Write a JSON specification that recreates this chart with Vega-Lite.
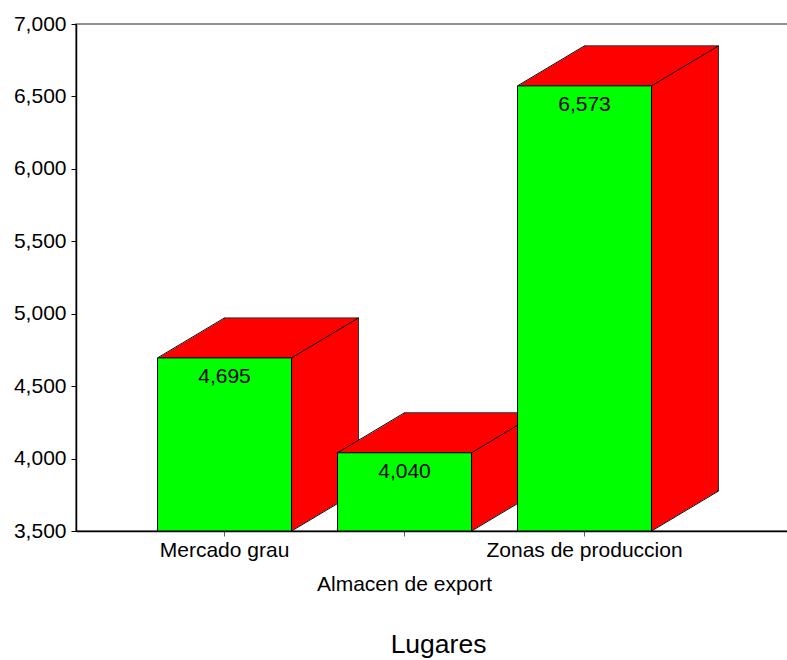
{
  "$schema": "https://vega.github.io/schema/vega-lite/v6.json",
  "autosize": "none",
  "width": 712,
  "height": 507,
  "padding": {"left": 76, "top": 24, "right": 0, "bottom": 129},
  "background": "white",
  "config": {
    "font": "Liberation Sans",
    "view": {"stroke": "#6e6e6e", "strokeWidth": 1.5}
  },
  "data": {
    "values": [
      {"Lugar": "Mercado grau", "value": 4695},
      {"Lugar": "Almacen de export", "value": 4040},
      {"Lugar": "Zonas de produccion", "value": 6573}
    ]
  },
  "encoding": {
    "x": {
      "field": "Lugar",
      "type": "nominal",
      "sort": null,
      "scale": {"paddingInner": 0.25556, "paddingOuter": 0.60556, "align": 0.374},
      "axis": {
        "labelAngle": 0,
        "labelFontSize": 21,
        "labelLimit": 400,
        "labelColor": "#000000",
        "labelPadding": {"condition": {"test": "datum.value == 'Almacen de export'", "value": 37}, "value": 3},
        "labelBaseline": "top",
        "domainColor": "#000000",
        "domainWidth": 1.5,
        "tickColor": "#606060",
        "tickSize": 5,
        "title": "Lugares",
        "titleFontSize": 26.5,
        "titleFontWeight": "normal",
        "titleColor": "#000000",
        "titleBaseline": "alphabetic",
        "titleY": 121,
        "titleX": 362,
        "titleAlign": "center",
        "grid": false
      }
    },
    "y": {
      "field": "value",
      "type": "quantitative",
      "scale": {"domain": [3500, 7000], "nice": false, "zero": false},
      "axis": {
        "values": [3500, 4000, 4500, 5000, 5500, 6000, 6500, 7000],
        "labelExpr": "format(datum.value, ',')",
        "labelFontSize": 21,
        "labelColor": "#000000",
        "labelPadding": 5,
        "domainColor": "#000000",
        "domainWidth": 1.5,
        "tickColor": "#000000",
        "tickSize": 5,
        "title": null,
        "grid": false
      }
    }
  },
  "layer": [
    {
      "encoding": {"y2": {"datum": 3500}},
      "layer": [
        {"mark": {"type": "bar", "fill": "#ff0000", "stroke": "#303030", "strokeWidth": 1, "xOffset": 67, "yOffset": -40, "y2Offset": -40}},
        {"mark": {"type": "bar", "fill": "#ff0000", "xOffset": 65.325, "yOffset": -39, "y2Offset": -39}},
        {"mark": {"type": "bar", "fill": "#ff0000", "xOffset": 63.65, "yOffset": -38, "y2Offset": -38}},
        {"mark": {"type": "bar", "fill": "#ff0000", "xOffset": 61.975, "yOffset": -37, "y2Offset": -37}},
        {"mark": {"type": "bar", "fill": "#ff0000", "xOffset": 60.3, "yOffset": -36, "y2Offset": -36}},
        {"mark": {"type": "bar", "fill": "#ff0000", "xOffset": 58.625, "yOffset": -35, "y2Offset": -35}},
        {"mark": {"type": "bar", "fill": "#ff0000", "xOffset": 56.95, "yOffset": -34, "y2Offset": -34}},
        {"mark": {"type": "bar", "fill": "#ff0000", "xOffset": 55.275, "yOffset": -33, "y2Offset": -33}},
        {"mark": {"type": "bar", "fill": "#ff0000", "xOffset": 53.6, "yOffset": -32, "y2Offset": -32}},
        {"mark": {"type": "bar", "fill": "#ff0000", "xOffset": 51.925, "yOffset": -31, "y2Offset": -31}},
        {"mark": {"type": "bar", "fill": "#ff0000", "xOffset": 50.25, "yOffset": -30, "y2Offset": -30}},
        {"mark": {"type": "bar", "fill": "#ff0000", "xOffset": 48.575, "yOffset": -29, "y2Offset": -29}},
        {"mark": {"type": "bar", "fill": "#ff0000", "xOffset": 46.9, "yOffset": -28, "y2Offset": -28}},
        {"mark": {"type": "bar", "fill": "#ff0000", "xOffset": 45.225, "yOffset": -27, "y2Offset": -27}},
        {"mark": {"type": "bar", "fill": "#ff0000", "xOffset": 43.55, "yOffset": -26, "y2Offset": -26}},
        {"mark": {"type": "bar", "fill": "#ff0000", "xOffset": 41.875, "yOffset": -25, "y2Offset": -25}},
        {"mark": {"type": "bar", "fill": "#ff0000", "xOffset": 40.2, "yOffset": -24, "y2Offset": -24}},
        {"mark": {"type": "bar", "fill": "#ff0000", "xOffset": 38.525, "yOffset": -23, "y2Offset": -23}},
        {"mark": {"type": "bar", "fill": "#ff0000", "xOffset": 36.85, "yOffset": -22, "y2Offset": -22}},
        {"mark": {"type": "bar", "fill": "#ff0000", "xOffset": 35.175, "yOffset": -21, "y2Offset": -21}},
        {"mark": {"type": "bar", "fill": "#ff0000", "xOffset": 33.5, "yOffset": -20, "y2Offset": -20}},
        {"mark": {"type": "bar", "fill": "#ff0000", "xOffset": 31.825, "yOffset": -19, "y2Offset": -19}},
        {"mark": {"type": "bar", "fill": "#ff0000", "xOffset": 30.15, "yOffset": -18, "y2Offset": -18}},
        {"mark": {"type": "bar", "fill": "#ff0000", "xOffset": 28.475, "yOffset": -17, "y2Offset": -17}},
        {"mark": {"type": "bar", "fill": "#ff0000", "xOffset": 26.8, "yOffset": -16, "y2Offset": -16}},
        {"mark": {"type": "bar", "fill": "#ff0000", "xOffset": 25.125, "yOffset": -15, "y2Offset": -15}},
        {"mark": {"type": "bar", "fill": "#ff0000", "xOffset": 23.45, "yOffset": -14, "y2Offset": -14}},
        {"mark": {"type": "bar", "fill": "#ff0000", "xOffset": 21.775, "yOffset": -13, "y2Offset": -13}},
        {"mark": {"type": "bar", "fill": "#ff0000", "xOffset": 20.1, "yOffset": -12, "y2Offset": -12}},
        {"mark": {"type": "bar", "fill": "#ff0000", "xOffset": 18.425, "yOffset": -11, "y2Offset": -11}},
        {"mark": {"type": "bar", "fill": "#ff0000", "xOffset": 16.75, "yOffset": -10, "y2Offset": -10}},
        {"mark": {"type": "bar", "fill": "#ff0000", "xOffset": 15.075, "yOffset": -9, "y2Offset": -9}},
        {"mark": {"type": "bar", "fill": "#ff0000", "xOffset": 13.4, "yOffset": -8, "y2Offset": -8}},
        {"mark": {"type": "bar", "fill": "#ff0000", "xOffset": 11.725, "yOffset": -7, "y2Offset": -7}},
        {"mark": {"type": "bar", "fill": "#ff0000", "xOffset": 10.05, "yOffset": -6, "y2Offset": -6}},
        {"mark": {"type": "bar", "fill": "#ff0000", "xOffset": 8.375, "yOffset": -5, "y2Offset": -5}},
        {"mark": {"type": "bar", "fill": "#ff0000", "xOffset": 6.7, "yOffset": -4, "y2Offset": -4}},
        {"mark": {"type": "bar", "fill": "#ff0000", "xOffset": 5.025, "yOffset": -3, "y2Offset": -3}},
        {"mark": {"type": "bar", "fill": "#ff0000", "xOffset": 3.35, "yOffset": -2, "y2Offset": -2}},
        {"mark": {"type": "bar", "fill": "#ff0000", "xOffset": 1.675, "yOffset": -1, "y2Offset": -1}}
      ]
    },
    {
      "mark": {"type": "rule", "color": "#000000", "strokeWidth": 1, "xOffset": -67, "x2Offset": 0, "yOffset": 0, "y2Offset": -40},
      "encoding": {"x2": {"field": "Lugar"}, "y2": {"field": "value"}}
    },
    {
      "mark": {"type": "rule", "color": "#000000", "strokeWidth": 1, "xOffset": 67, "x2Offset": 134, "yOffset": 0, "y2Offset": -40},
      "encoding": {"x2": {"field": "Lugar"}, "y2": {"field": "value"}}
    },
    {
      "mark": {"type": "rule", "color": "#000000", "strokeWidth": 1, "xOffset": 67, "x2Offset": 134, "yOffset": 0, "y2Offset": -40},
      "encoding": {"x2": {"field": "Lugar"}, "y": {"datum": 3500}, "y2": {"datum": 3500}}
    },
    {
      "mark": {"type": "bar", "fill": "#00ff00", "stroke": "#000000", "strokeWidth": 1},
      "encoding": {"y2": {"datum": 3500}}
    },
    {
      "mark": {"type": "text", "fontSize": 21, "dy": 25, "baseline": "alphabetic", "align": "center", "color": "#000000"},
      "encoding": {"text": {"field": "value", "type": "quantitative", "format": ","}}
    }
  ]
}
